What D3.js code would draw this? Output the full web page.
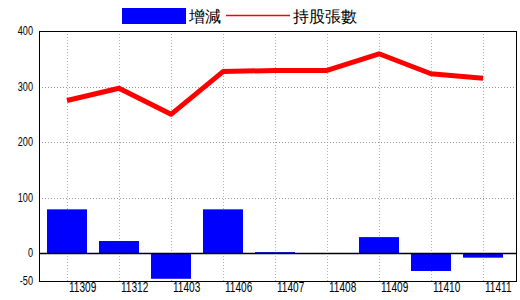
<!DOCTYPE html>
<html>
<head>
<meta charset="utf-8">
<style>
  body { margin: 0; background: #fff; }
  svg { display: block; }
  text { font-family: "Liberation Sans", Arial, sans-serif; }
</style>
<script src="https://d3js.org/d3.v7.min.js"></script>
</head>
<body>
<div id="chart"></div>
<script>
// data
const months = ["11309", "11312", "11403", "11406", "11407", "11408", "11409", "11410", "11411"];
const change = [79, 22, -46, 79, 2, 0, 29, -32, -8];
const holders = [275, 297, 250, 327, 329, 329, 359, 323, 315];
const yTicks = [-50, 0, 100, 200, 300, 400];

const W = 520, H = 300;
const plotL = 39, plotR = 516, plotT = 31, plotB = 281;

const svg = d3.select("#chart").append("svg")
    .attr("width", W).attr("height", H);

const x = d3.scaleBand().domain(months).range([41, 509]);
const y = d3.scaleLinear().domain([-50, 400]).range([plotB, plotT]);
const cx = d => x(d) + x.bandwidth() / 2;

// vertical grid
svg.append("g").selectAll("line").data(months).join("line")
    .attr("x1", d => cx(d) + 0.5)
    .attr("x2", d => cx(d) + 0.5)
    .attr("y1", plotT).attr("y2", plotB)
    .attr("stroke", "#a8b4c0").attr("stroke-dasharray", "1,2");

// horizontal grid
svg.append("g").selectAll("line").data([100, 200, 300]).join("line")
    .attr("x1", plotL).attr("x2", plotR)
    .attr("y1", d => Math.round(y(d)) + 0.5).attr("y2", d => Math.round(y(d)) + 0.5)
    .attr("stroke", "#999").attr("stroke-dasharray", "1,2");

// bars
svg.append("g").selectAll("rect").data(change).join("rect")
    .attr("x", (d, i) => x(months[i]) + 6)
    .attr("width", x.bandwidth() - 12)
    .attr("y", d => y(Math.max(0, d)))
    .attr("height", d => Math.abs(y(d) - y(0)))
    .attr("fill", "#0000ff");

// zero line
svg.append("line")
    .attr("x1", plotL).attr("x2", plotR)
    .attr("y1", Math.round(y(0)) + 0.5).attr("y2", Math.round(y(0)) + 0.5)
    .attr("stroke", "#000").attr("stroke-width", 1.5);

// holders line
const line = d3.line()
    .x((d, i) => cx(months[i]))
    .y(d => y(d));
svg.append("path").datum(holders)
    .attr("d", line)
    .attr("fill", "none")
    .attr("stroke", "#ff0000")
    .attr("stroke-width", 5)
    .attr("stroke-linejoin", "round");

// frame
svg.append("rect")
    .attr("x", plotL + 0.5).attr("y", plotT + 0.5)
    .attr("width", plotR - plotL).attr("height", plotB - plotT)
    .attr("fill", "none").attr("stroke", "#000");

// y axis labels - squeezed horizontally, original uses a narrow font
svg.append("g").selectAll("g").data(yTicks).join("g")
    .attr("transform", d => `translate(${plotL - 6},${y(d)}) scale(0.76,1)`)
  .append("text")
    .attr("text-anchor", "end")
    .attr("dy", "0.35em")
    .attr("font-size", 12)
    .text(d => d);

// x axis labels (placed just right of each grid line)
svg.append("g").selectAll("g").data(months).join("g")
    .attr("transform", d => `translate(${cx(d) + 2},292) scale(0.72,1)`)
  .append("text")
    .attr("font-size", 14)
    .text(d => d);

// legend
const lg = svg.append("g");
lg.append("rect").attr("x", 122).attr("y", 8).attr("width", 64).attr("height", 16).attr("fill", "#0000ff");
lg.append("text").attr("x", 189).attr("y", 22).text("增減")
    .attr("font-size", 16).attr("font-family", "Noto Sans CJK TC, sans-serif");
lg.append("line").attr("x1", 226).attr("x2", 290).attr("y1", 15.5).attr("y2", 15.5)
    .attr("stroke", "#ff0000").attr("stroke-width", 1.5);
lg.append("text").attr("x", 293).attr("y", 22).text("持股張數")
    .attr("font-size", 16).attr("font-family", "Noto Sans CJK TC, sans-serif");
</script>
</body>
</html>
